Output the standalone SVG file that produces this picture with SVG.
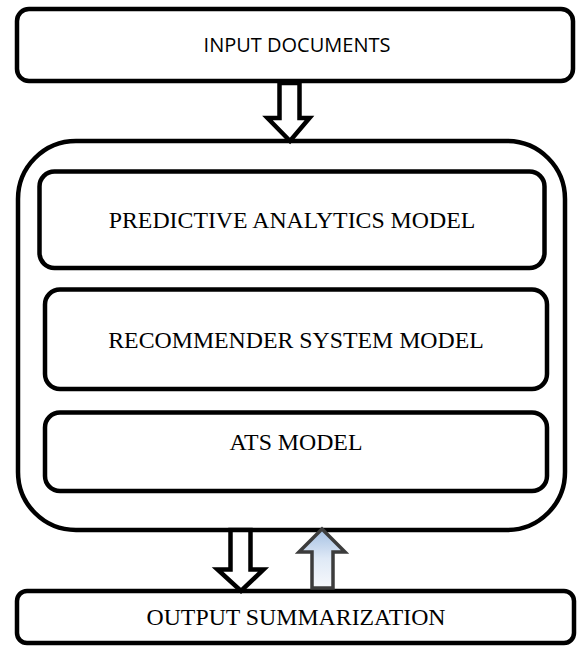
<svg xmlns="http://www.w3.org/2000/svg" width="577" height="646" viewBox="0 0 577 646">
  <defs>
    <linearGradient id="upFill" x1="0" y1="0" x2="0" y2="1">
      <stop offset="0" stop-color="#a3bfe2"/>
      <stop offset="0.5" stop-color="#dfe9f6"/>
      <stop offset="1" stop-color="#f7f9fc"/>
    </linearGradient>
  </defs>
  <style>
    .box { fill: #ffffff; stroke: #000000; stroke-width: 4.5; }
    .lbl { font-family: "Liberation Serif", "Times New Roman", serif; font-size: 23.8px; fill: #000000; text-anchor: middle; }
    .lbls { font-family: "Open Sans", "Liberation Sans", Arial, sans-serif; font-size: 20px; fill: #000000; text-anchor: middle; }
    .arrow { fill: #ffffff; stroke: #000000; stroke-width: 4.5; stroke-linejoin: miter; }
    .uparrow { fill: url(#upFill); stroke: #3c3c3c; stroke-width: 3.5; stroke-linejoin: miter; }
  </style>

  <g id="input-documents">
    <rect class="box" x="17" y="9" width="556" height="72" rx="12"/>
    <text class="lbls" x="297" y="52">INPUT DOCUMENTS</text>
  </g>

  <g id="model-container">
    <rect class="box" x="18" y="141" width="547" height="389" rx="58"/>
  </g>

  <g id="predictive-analytics-model">
    <rect class="box" x="39.5" y="171.5" width="505" height="96.5" rx="15"/>
    <text class="lbl" x="292" y="228">PREDICTIVE ANALYTICS MODEL</text>
  </g>

  <g id="recommender-system-model">
    <rect class="box" x="45" y="289.5" width="502" height="99.5" rx="15"/>
    <text class="lbl" x="296" y="348">RECOMMENDER SYSTEM MODEL</text>
  </g>

  <g id="ats-model">
    <rect class="box" x="45" y="412.5" width="502" height="78.5" rx="15"/>
    <text class="lbl" x="296" y="450">ATS MODEL</text>
  </g>

  <g id="output-summarization">
    <rect class="box" x="17" y="591" width="557" height="52" rx="10"/>
    <text class="lbl" x="296" y="625">OUTPUT SUMMARIZATION</text>
  </g>

  <g id="connectors">
    <polygon class="arrow" points="279.5,83 279.5,118 267.5,118 290,141 309.5,118 299.5,118 299.5,83"/>
    <polygon class="arrow" points="230.5,530 230.5,569.5 217.5,569.5 241,591 263.5,569.5 250.5,569.5 250.5,530"/>
    <polygon class="uparrow" points="312,588 312,552 299,552 322,529 345,552 333,552 333,588"/>
  </g>
</svg>
